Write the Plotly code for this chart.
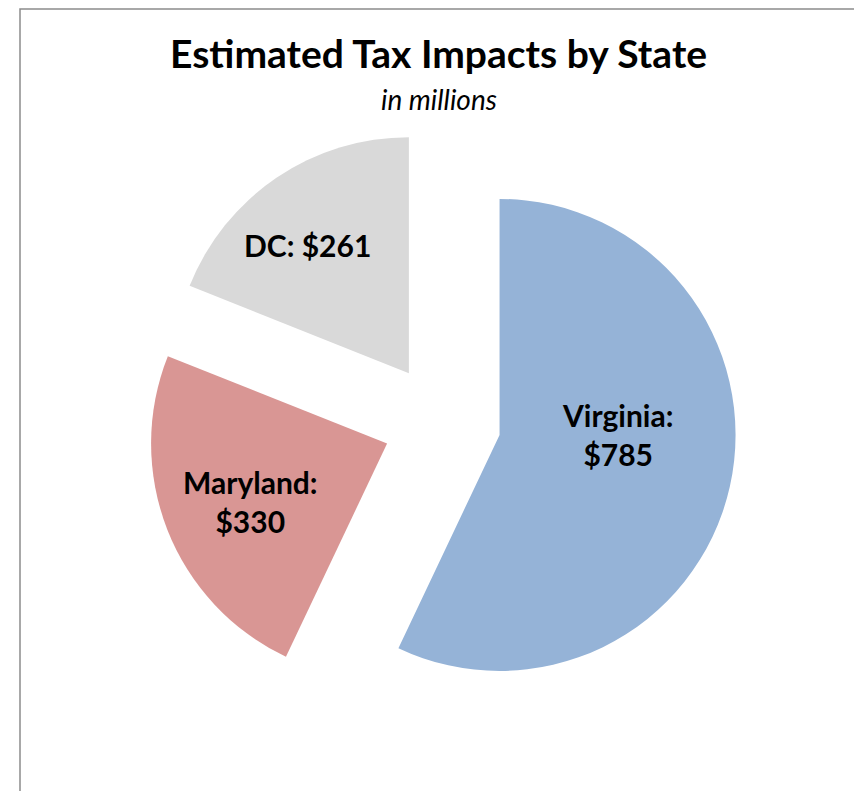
import plotly.graph_objects as go

states = ["Virginia", "Maryland", "DC"]
tax_impact = [785, 330, 261]
slice_colors = ["#95B3D7", "#D99694", "#D9D9D9"]

W, H = 862, 791
OFF = 8  # page body margin pushes the figure 8px right/down


def px_x(x):
    return (x - OFF) / W


def px_y(y):
    return 1 - (y - OFF) / H


slice_text = [f"{s}:<br>${v}" if s != "DC" else f"{s}: ${v}"
              for s, v in zip(states, tax_impact)]
# label centres (px) where Excel put the data labels
label_pos = [(617, 434), (251, 501), (307, 245)]

fig = go.Figure(go.Pie(
    labels=states,
    values=tax_impact,
    text=slice_text,
    textinfo="none",
    hoverinfo="label+value",
    sort=False,
    direction="clockwise",
    rotation=0,
    pull=[0.25, 0.25, 0.25],
    marker=dict(colors=slice_colors, line=dict(width=0)),
    domain=dict(x=[px_x(147), px_x(737)], y=[px_y(717), px_y(127)]),
    showlegend=False,
))

for txt, (lx, ly) in zip(slice_text, label_pos):
    fig.add_annotation(
        text=f"<b>{txt}</b>", x=px_x(lx), y=px_y(ly),
        xref="paper", yref="paper", showarrow=False,
        xanchor="center", yanchor="middle",
        font=dict(family="Lato", size=30, color="black"),
    )

fig.add_annotation(
    text="<b>Estimated Tax Impacts by State</b>", x=px_x(438), y=px_y(53),
    xref="paper", yref="paper", showarrow=False, yanchor="middle",
    font=dict(family="Lato", size=39, color="black"),
)
fig.add_annotation(
    text="<i>in millions</i>", x=px_x(439), y=px_y(99),
    xref="paper", yref="paper", showarrow=False, yanchor="middle",
    font=dict(family="Lato", size=28, color="black"),
)

# outer frame of the chart area
fig.add_shape(
    type="rect", xref="paper", yref="paper",
    x0=px_x(20), x1=px_x(856), y0=-0.1, y1=px_y(9),
    line=dict(color="#8C8C8C", width=1.5), fillcolor="rgba(0,0,0,0)",
)

fig.update_layout(
    width=W, height=H,
    margin=dict(l=0, r=0, t=0, b=0),
    paper_bgcolor="white",
    plot_bgcolor="white",
)

fig.write_html("out.html")
